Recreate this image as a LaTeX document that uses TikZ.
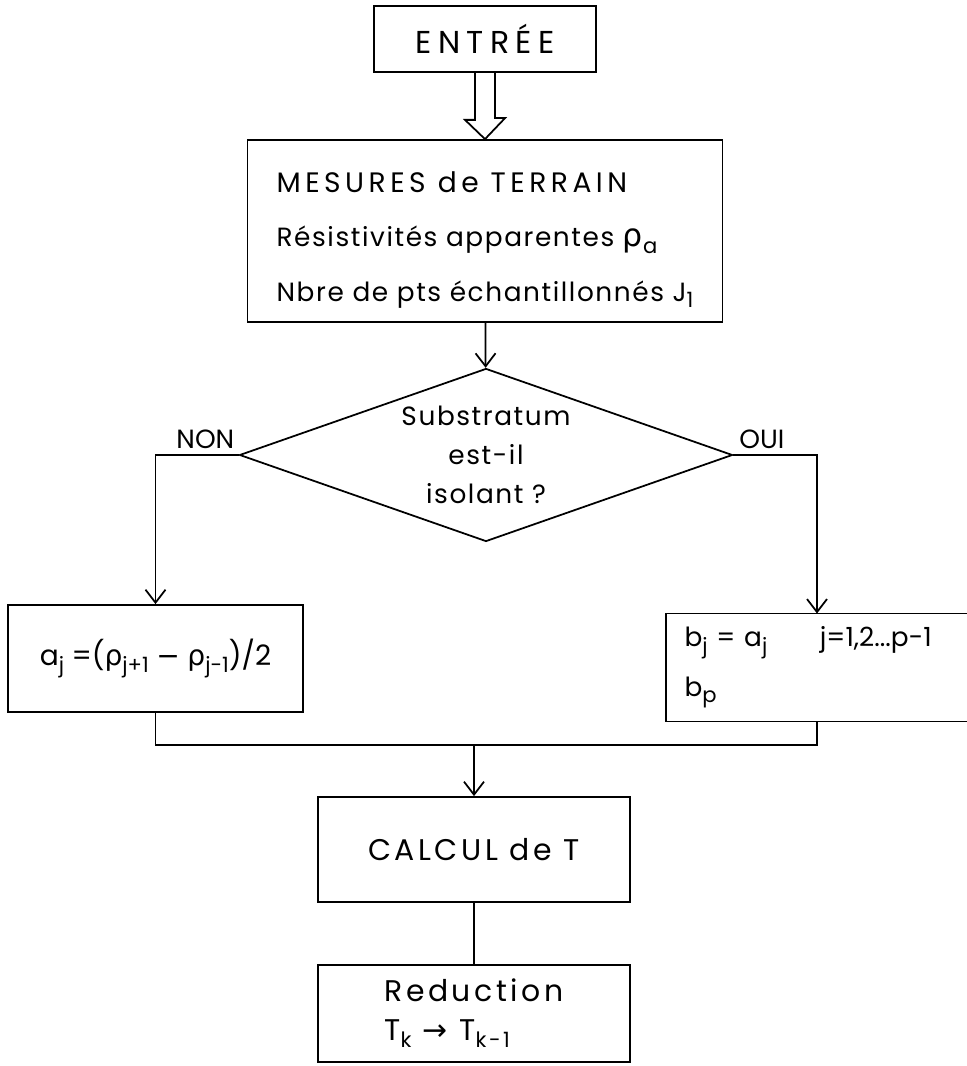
\documentclass[tikz,border=0pt]{standalone}
\usepackage{fontspec}
\setmainfont{Poppins}
\newfontfamily\grkfont{DejaVu Sans}
\usetikzlibrary{arrows.meta,shapes.geometric}
\newcommand{\rhosym}{{\grkfont ρ}}
\newcommand{\minussym}{{\grkfont −}}
\newcommand{\sub}[1]{\raisebox{-0.45ex}{\fontsize{12}{12}\selectfont #1}}
\newcommand{\lsp}[1]{\addfontfeature{LetterSpace=#1}}

\begin{document}
\begin{tikzpicture}[line width=1pt, >={Straight Barb[length=2.6mm,width=4mm]},
  every node/.style={font=\fontsize{14}{31}\selectfont},
  box/.style={draw,inner sep=0pt}]
\useasboundingbox (0,0) rectangle (19.34,21.32);
\node[box,minimum width=4.44cm,minimum height=1.32cm,font=\fontsize{18}{20}\selectfont\lsp{20}] (entree) at (9.70,20.54) {ENTRÉE};
\node[box,minimum width=9.5cm,minimum height=3.64cm,align=left,font=\fontsize{15}{31}\selectfont\lsp{6}] (mesures) at (9.70,16.70)
  {\rule{0pt}{22pt}{\fontsize{16}{31}\selectfont\lsp{16}MESURES de TERRAIN}\\ Résistivités apparentes {\fontsize{18}{31}\selectfont\rhosym}\sub{a}\\ Nbre de pts échantillonnés J\sub{1}};
% fleche double
\draw (entree.south) ++(-0.2,0) -- ++(0,-0.94) -- ++(-0.2,0) -- (mesures.north) -- ++(0.4,0.42) -- ++(-0.2,0) -- ++(0,0.94);
\node[draw,diamond,aspect=2.85,minimum width=9.86cm,minimum height=3.46cm,inner sep=0pt,align=center,font=\fontsize{15}{22}\selectfont\lsp{6}] (diam) at (9.72,12.22)
  {Substratum\\ est-il\\ isolant ?};
\draw[->] (mesures) -- (diam);
\node[box,minimum width=5.9cm,minimum height=2.14cm,font=\fontsize{16}{20}\selectfont] (nona) at (3.11,8.15)
  {a\sub{j} =(\rhosym\sub{j+1} \minussym\ \rhosym\sub{j-1})/2};
\node[inner xsep=0.35cm,inner ysep=0.25cm,text width=5.3cm,minimum height=2.1cm,align=left,font=\fontsize{15}{28}\selectfont] (oui) at (16.34,7.97)
  {b\sub{j} = a\sub{j}\qquad j=1,2...p-1\\ b\sub{p}};
\draw (oui.north east) -- (oui.north west) -- (oui.south west) -- (oui.south east);
\draw[->] (diam.west) -| node[pos=0.2,above,font=\fontsize{15}{17}\selectfont] (lnon) {NON} (nona);
\draw[->] (diam.east) -| node[pos=0.17,above,font=\fontsize{15}{17}\selectfont] (loui) {OUI} (oui);
\coordinate (merge) at (9.48,6.42);
\draw (nona.south) |- (merge) -| (oui.south);
\node[box,minimum width=6.24cm,minimum height=2.1cm,font=\fontsize{17}{20}\selectfont\lsp{12}] (calcul) at (9.48,4.33) {CALCUL de T};
\draw[->] (merge) -- (calcul);
\node[box,minimum width=6.24cm,minimum height=1.94cm,align=left,font=\fontsize{17}{22}\selectfont\lsp{12}] (reduc) at (9.48,1.05)
  {Reduction\\ T\sub{k} {\grkfont →} T\sub{k-1}};
\draw (calcul) -- (reduc);
\end{tikzpicture}
\end{document}
